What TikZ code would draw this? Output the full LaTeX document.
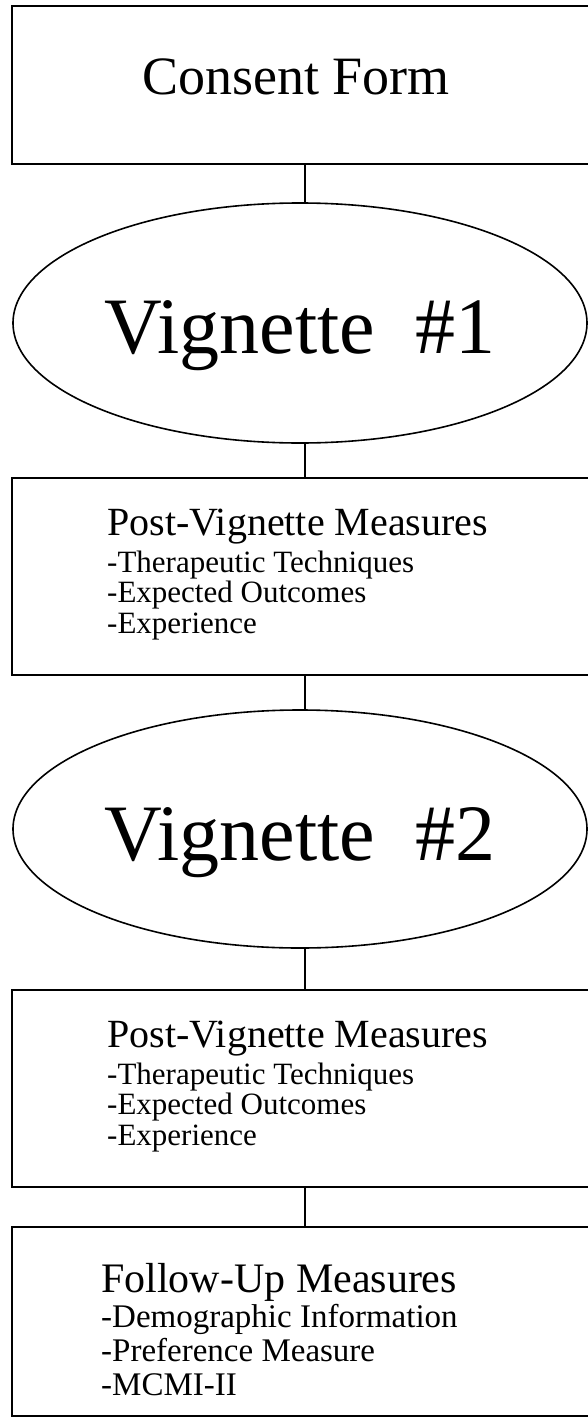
\documentclass[tikz,border=0pt]{standalone}
\usepackage{fontspec}
\setmainfont{Liberation Serif}
\usetikzlibrary{shapes.geometric}
\begin{document}
\begin{tikzpicture}[x=1pt,y=-1pt,
  boxnode/.style={draw, line width=2.2pt, rectangle, inner sep=0pt, outer sep=0pt, minimum width=608pt},
  ovalnode/.style={draw, line width=1.6pt, ellipse, inner sep=0pt, outer sep=0pt, minimum width=574pt, minimum height=240pt},
  link/.style={line width=1.4pt},
  titletxt/.style={inner sep=0pt, anchor=base west, font=\fontsize{40}{40}\selectfont},
  itemtxt/.style={inner sep=0pt, anchor=base west, font=\fontsize{31}{31}\selectfont},
  bigtxt/.style={inner sep=0pt, anchor=base, font=\fontsize{80}{80}\selectfont}]
\useasboundingbox (0,0) rectangle (588,1418);
\clip (0,0) rectangle (588,1418);
\fill[white] (0,0) rectangle (588,1418);
% shapes
\node[boxnode, minimum height=158pt] (b1) at (316,85) {};
\node[ovalnode] (e1) at (300,323) {};
\node[boxnode, minimum height=197pt] (b2) at (316,576.5) {};
\node[ovalnode, minimum height=238pt] (e2) at (300,829) {};
\node[boxnode, minimum height=197pt] (b3) at (316,1088.5) {};
\node[boxnode, minimum height=189pt] (b4) at (316,1321.5) {};
% connectors
\coordinate (cx) at (305,0);
\draw[link] (b1.south -| cx) -- (e1.north -| cx);
\draw[link] (e1.south -| cx) -- (b2.north -| cx);
\draw[link] (b2.south -| cx) -- (e2.north -| cx);
\draw[link] (e2.south -| cx) -- (b3.north -| cx);
\draw[link] (b3.south -| cx) -- (b4.north -| cx);
% texts
\node[inner sep=0pt, anchor=base, font=\fontsize{54}{54}\selectfont] (t1) at (296,95) {Consent Form};
\node[bigtxt] (t2) at (300,353) {Vignette\ \ \#1};
\node[bigtxt] (t3) at (300,860) {Vignette\ \ \#2};
% box 2
\node[titletxt] (p1) at (107,535) {Post-Vignette Measures};
\node[itemtxt] (p1a) at (107,572) {-Therapeutic Techniques};
\node[itemtxt] (p1b) at (107,602) {-Expected Outcomes};
\node[itemtxt] (p1c) at (107,633) {-Experience};
% box 3
\node[titletxt] (p2) at (107,1047) {Post-Vignette Measures};
\node[itemtxt] (p2a) at (107,1084) {-Therapeutic Techniques};
\node[itemtxt] (p2b) at (107,1114) {-Expected Outcomes};
\node[itemtxt] (p2c) at (107,1145) {-Experience};
% box 4
\node[titletxt, font=\fontsize{42}{42}\selectfont] (f1) at (101,1292) {Follow-Up Measures};
\node[itemtxt, font=\fontsize{33}{33}\selectfont] (f1a) at (101,1327) {-Demographic Information};
\node[itemtxt, font=\fontsize{33}{33}\selectfont] (f1b) at (101,1361) {-Preference Measure};
\node[itemtxt, font=\fontsize{33}{33}\selectfont] (f1c) at (101,1395) {-MCMI-II};
\end{tikzpicture}
\end{document}
